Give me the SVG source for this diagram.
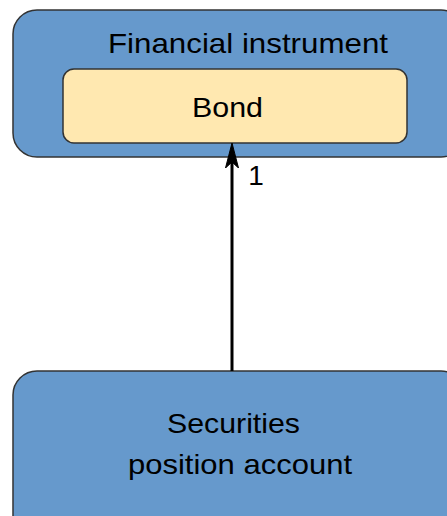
<svg xmlns="http://www.w3.org/2000/svg" width="447" height="516" viewBox="0 0 447 516">
<style>
.blue{fill:#6699cc;stroke:#333;stroke-width:1.5}
.yel{fill:#ffe8b0;stroke:#333;stroke-width:1.5}
text{font-family:"Liberation Sans",Arial,sans-serif;font-size:28px;fill:#000}
.conn{stroke:#000;stroke-width:3;fill:none}
</style>
<defs>
<marker id="arr" markerUnits="userSpaceOnUse" markerWidth="26" markerHeight="14" refX="18" refY="7" orient="auto" viewBox="0 0 26 14">
<path d="M25 7 L0 0.5 L6 7 L0 13.5 Z" fill="#000" stroke="#000" stroke-width="1" stroke-linejoin="round"/>
</marker>
</defs>
<rect width="447" height="516" fill="#fff"/>
<g id="financial-instrument">
<rect class="blue" x="13" y="10" width="452" height="147" rx="24"/>
<text x="248" y="53" text-anchor="middle" textLength="280" lengthAdjust="spacingAndGlyphs">Financial instrument</text>
</g>
<g id="bond">
<rect class="yel" x="63" y="69" width="344" height="74" rx="11"/>
<text x="227.5" y="117" text-anchor="middle" textLength="71" lengthAdjust="spacingAndGlyphs">Bond</text>
</g>
<g id="securities-position-account">
<rect class="blue" x="13" y="371" width="452" height="170" rx="24"/>
<text x="233.5" y="433" text-anchor="middle" textLength="133" lengthAdjust="spacingAndGlyphs">Securities</text>
<text x="240" y="474" text-anchor="middle" textLength="224" lengthAdjust="spacingAndGlyphs">position account</text>
</g>
<g id="connectors">
<line class="conn" x1="232" y1="371" x2="232" y2="150" marker-end="url(#arr)"/>
<text x="256" y="185" text-anchor="middle">1</text>
</g>
</svg>
